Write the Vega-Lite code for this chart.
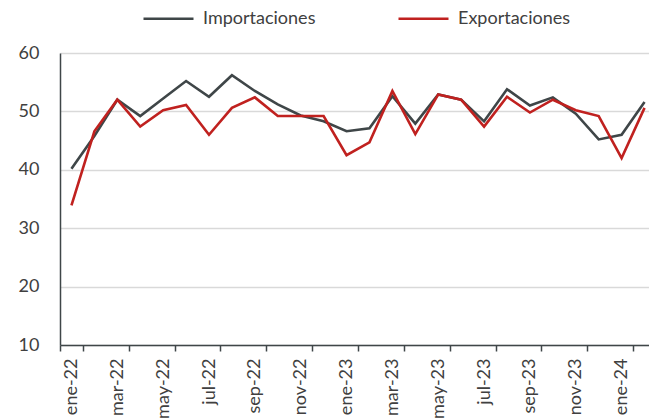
{
  "$schema": "https://vega.github.io/schema/vega-lite/v6.json",
  "width": 596,
  "height": 292,
  "autosize": {"type": "none"},
  "padding": {"left": 60, "top": 53, "right": 0, "bottom": 75},
  "background": "white",
  "config": {
    "view": {"stroke": null},
    "font": "Lato"
  },
  "data": {
    "values": [
      {"mes": "ene-22", "Importaciones": 40.2, "Exportaciones": 33.9},
      {"mes": "feb-22", "Importaciones": 45.8, "Exportaciones": 46.6},
      {"mes": "mar-22", "Importaciones": 52.0, "Exportaciones": 52.0},
      {"mes": "abr-22", "Importaciones": 49.2, "Exportaciones": 47.4},
      {"mes": "may-22", "Importaciones": 52.2, "Exportaciones": 50.2},
      {"mes": "jun-22", "Importaciones": 55.2, "Exportaciones": 51.1},
      {"mes": "jul-22", "Importaciones": 52.5, "Exportaciones": 46.0},
      {"mes": "ago-22", "Importaciones": 56.2, "Exportaciones": 50.6},
      {"mes": "sep-22", "Importaciones": 53.5, "Exportaciones": 52.4},
      {"mes": "oct-22", "Importaciones": 51.2, "Exportaciones": 49.2},
      {"mes": "nov-22", "Importaciones": 49.3, "Exportaciones": 49.2},
      {"mes": "dic-22", "Importaciones": 48.3, "Exportaciones": 49.2},
      {"mes": "ene-23", "Importaciones": 46.6, "Exportaciones": 42.5},
      {"mes": "feb-23", "Importaciones": 47.1, "Exportaciones": 44.7},
      {"mes": "mar-23", "Importaciones": 52.6, "Exportaciones": 53.5},
      {"mes": "abr-23", "Importaciones": 47.9, "Exportaciones": 46.1},
      {"mes": "may-23", "Importaciones": 52.9, "Exportaciones": 52.9},
      {"mes": "jun-23", "Importaciones": 52.0, "Exportaciones": 52.0},
      {"mes": "jul-23", "Importaciones": 48.3, "Exportaciones": 47.4},
      {"mes": "ago-23", "Importaciones": 53.8, "Exportaciones": 52.5},
      {"mes": "sep-23", "Importaciones": 51.0, "Exportaciones": 49.8},
      {"mes": "oct-23", "Importaciones": 52.4, "Exportaciones": 52.0},
      {"mes": "nov-23", "Importaciones": 49.6, "Exportaciones": 50.2},
      {"mes": "dic-23", "Importaciones": 45.2, "Exportaciones": 49.2},
      {"mes": "ene-24", "Importaciones": 46.0, "Exportaciones": 42.0},
      {"mes": "feb-24", "Importaciones": 51.6, "Exportaciones": 50.6}
    ]
  },
  "transform": [
    {"fold": ["Importaciones", "Exportaciones"], "as": ["serie", "valor"]}
  ],
  "mark": {"type": "line", "strokeWidth": 2.6, "strokeJoin": "miter"},
  "encoding": {
    "x": {
      "field": "mes",
      "type": "ordinal",
      "sort": null,
      "scale": {"type": "band", "paddingInner": 0, "paddingOuter": 0},
      "axis": {
        "title": null,
        "values": ["ene-22", "mar-22", "may-22", "jul-22", "sep-22", "nov-22", "ene-23", "mar-23", "may-23", "jul-23", "sep-23", "nov-23", "ene-24"],
        "labelAngle": -90,
        "labelAlign": "right",
        "labelBaseline": "middle",
        "labelFontSize": 18,
        "labelColor": "#404040",
        "labelPadding": 7,
        "tickBand": "extent",
        "tickSize": 6,
        "tickColor": "#3f4648",
        "tickWidth": 1.5,
        "domainColor": "#3f4648",
        "domainWidth": 1.5,
        "grid": false
      }
    },
    "y": {
      "field": "valor",
      "type": "quantitative",
      "scale": {"domain": [10, 60], "nice": false, "zero": false},
      "axis": {
        "title": null,
        "values": [10, 20, 30, 40, 50, 60],
        "ticks": false,
        "labelPadding": 21,
        "labelFontSize": 18,
        "labelColor": "#404040",
        "domainColor": "#3f4648",
        "domainWidth": 1.5,
        "grid": true,
        "gridColor": "#d9d9d9",
        "gridWidth": 1.5
      }
    },
    "color": {
      "field": "serie",
      "type": "nominal",
      "scale": {"domain": ["Importaciones", "Exportaciones"], "range": ["#3f4648", "#c0211f"]},
      "legend": {
        "title": null,
        "orient": "none",
        "direction": "horizontal",
        "legendX": 82,
        "legendY": -61,
        "symbolType": "stroke",
        "symbolSize": 2500,
        "symbolStrokeWidth": 2.6,
        "labelFontSize": 18,
        "labelColor": "#404040",
        "labelOffset": 8,
        "columnPadding": 77
      }
    }
  }
}
